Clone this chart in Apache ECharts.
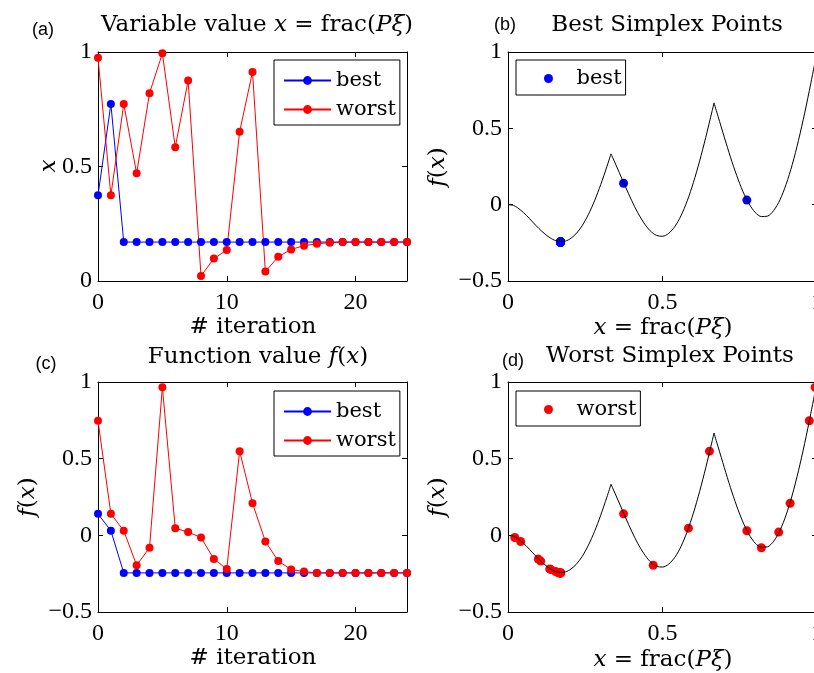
<!DOCTYPE html>
<html>
<head>
<meta charset="utf-8">
<script src="https://cdn.jsdelivr.net/npm/echarts@6/dist/echarts.min.js"></script>
<style>
  html, body { margin: 0; padding: 0; background: #fff; }
  #main { width: 814px; height: 673px; }
</style>
</head>
<body>
<div id="main"></div>
<script>
// iteration index of the simplex run
const iterations = [0, 1, 2, 3, 4, 5, 6, 7, 8, 9, 10, 11, 12, 13, 14, 15, 16, 17, 18, 19, 20, 21, 22, 23, 24];

// x = frac(P xi) of best / worst simplex point per iteration
const bestX = [0.374, 0.773, 0.170, 0.170, 0.170, 0.170, 0.170, 0.170, 0.170, 0.170, 0.170, 0.170, 0.170,
  0.170, 0.170, 0.170, 0.170, 0.170, 0.170, 0.170, 0.170, 0.170, 0.170, 0.170, 0.170];
const worstX = [0.975, 0.374, 0.773, 0.470, 0.820, 0.994, 0.584, 0.876, 0.022, 0.098, 0.135, 0.652, 0.913,
  0.041, 0.106, 0.138, 0.154, 0.163, 0.167, 0.170, 0.170, 0.170, 0.170, 0.170, 0.170];

// f(x) of best / worst simplex point per iteration
const bestF = [0.140, 0.030, -0.245, -0.245, -0.245, -0.245, -0.245, -0.245, -0.245, -0.245, -0.245, -0.245, -0.245,
  -0.245, -0.245, -0.245, -0.245, -0.245, -0.245, -0.245, -0.245, -0.245, -0.245, -0.245, -0.245];
const worstF = [0.747, 0.140, 0.030, -0.195, -0.081, 0.965, 0.047, 0.021, -0.014, -0.155, -0.219, 0.549, 0.209,
  -0.040, -0.168, -0.223, -0.236, -0.245, -0.245, -0.245, -0.245, -0.245, -0.245, -0.245, -0.245];

// the objective curve f(x) (b)/(d), split at the two cusps
const curveSeg1 = [[0, 0], [0.02, -0.007], [0.04, -0.034], [0.06, -0.071], [0.08, -0.114], [0.10, -0.156],
  [0.12, -0.193], [0.14, -0.222], [0.16, -0.239], [0.18, -0.241], [0.20, -0.225], [0.22, -0.191],
  [0.24, -0.138], [0.26, -0.065], [0.28, 0.025], [0.30, 0.131], [0.32, 0.249], [0.3333, 0.333]];
const curveSeg2 = [[0.3333, 0.333], [0.34, 0.303], [0.36, 0.211], [0.38, 0.118], [0.40, 0.028], [0.42, -0.053],
  [0.44, -0.120], [0.46, -0.171], [0.48, -0.201], [0.50, -0.207], [0.52, -0.188], [0.54, -0.143],
  [0.56, -0.072], [0.58, 0.025], [0.60, 0.145], [0.62, 0.285], [0.64, 0.441], [0.66, 0.609], [0.6667, 0.667]];
const curveSeg3 = [[0.6667, 0.667], [0.68, 0.577], [0.70, 0.442], [0.72, 0.311], [0.74, 0.192], [0.76, 0.088],
  [0.78, 0.006], [0.80, -0.051], [0.82, -0.078], [0.84, -0.075], [0.86, -0.038], [0.88, 0.031],
  [0.90, 0.133], [0.92, 0.263], [0.94, 0.421], [0.96, 0.599], [0.98, 0.795], [1.0, 1.0]];

const serif = 'DejaVu Serif';
const tickFont = 'Liberation Serif';
const BLUE = '#0000ff';
const RED = '#ff0000';

const grids = [
  { left: 98, top: 52, width: 309, height: 229 },
  { left: 508, top: 52, width: 309, height: 229 },
  { left: 98, top: 382, width: 309, height: 230 },
  { left: 508, top: 382, width: 309, height: 230 }
].map(g => Object.assign({ show: false, containLabel: false, outerBoundsMode: 'none' }, g));

const minus = v => (v < 0 ? '\u2212' + (-v) : String(v));

const xAxes = [], yAxes = [];
function addAxes(gi, xr, yr, hideMaxX) {
  const line = { show: true, onZero: false, lineStyle: { color: '#000', width: 1 } };
  const tick = { show: true, inside: true, length: 5, lineStyle: { color: '#000', width: 1 } };
  const label = { fontFamily: tickFont, fontSize: 24, color: '#000', formatter: minus };
  ['bottom', 'top'].forEach((pos, k) => xAxes.push({
    gridIndex: gi, type: 'value', position: pos, min: xr[0], max: xr[1], interval: xr[2],
    axisLine: line, axisTick: tick, splitLine: { show: false },
    axisLabel: Object.assign({ show: k === 0, margin: 10, showMaxLabel: !hideMaxX }, label)
  }));
  ['left', 'right'].forEach((pos, k) => yAxes.push({
    gridIndex: gi, type: 'value', position: pos, min: yr[0], max: yr[1], interval: yr[2],
    axisLine: line, axisTick: tick, splitLine: { show: false },
    axisLabel: Object.assign({ show: k === 0, margin: 6 }, label)
  }));
}
addAxes(0, [0, 24, 10], [0, 1, 0.5], true);
addAxes(1, [0, 1, 0.5], [-0.5, 1, 0.5], false);
addAxes(2, [0, 24, 10], [-0.5, 1, 0.5], true);
addAxes(3, [0, 1, 0.5], [-0.5, 1, 0.5], false);

const iterLine = (name, gi, ys, color) => ({
  name, type: 'line', xAxisIndex: gi * 2, yAxisIndex: gi * 2,
  data: iterations.map((it, k) => [it, ys[k]]),
  symbol: 'circle', symbolSize: 8, showAllSymbol: true, clip: false,
  lineStyle: { color, width: 1 }, itemStyle: { color, opacity: 1 },
  emphasis: { disabled: true }
});
const curve = (gi, seg) => ({
  type: 'line', xAxisIndex: gi * 2, yAxisIndex: gi * 2, data: seg,
  symbol: 'none', smooth: 0.3, clip: false,
  lineStyle: { color: '#000', width: 1 }, emphasis: { disabled: true }
});
const dots = (name, gi, xs, ys, color) => ({
  name, type: 'scatter', xAxisIndex: gi * 2, yAxisIndex: gi * 2,
  data: xs.map((x, k) => [x, ys[k]]),
  symbol: 'circle', symbolSize: 9, clip: false, itemStyle: { color, opacity: 1 },
  emphasis: { disabled: true }
});

const series = [
  iterLine('x best', 0, bestX, BLUE),
  iterLine('x worst', 0, worstX, RED),
  curve(1, curveSeg1), curve(1, curveSeg2), curve(1, curveSeg3),
  dots('pts best', 1, bestX, bestF, BLUE),
  iterLine('f best', 2, bestF, BLUE),
  iterLine('f worst', 2, worstF, RED),
  curve(3, curveSeg1), curve(3, curveSeg2), curve(3, curveSeg3),
  dots('pts worst', 3, worstX, worstF, RED)
];

const legendBase = {
  orient: 'vertical', selectedMode: false, borderColor: '#000', borderWidth: 1, borderRadius: 0,
  backgroundColor: '#fff', itemGap: 8,
  textStyle: { fontFamily: serif, fontSize: 21, color: '#000' },
  formatter: n => n.split(' ')[1]
};
const legends = [
  { left: 274, top: 60, data: ['x best', 'x worst'], itemWidth: 47, itemHeight: 11, padding: [10, 4, 5, 9] },
  { left: 516, top: 60, data: ['pts best'], itemWidth: 46, itemHeight: 9, padding: [8, 4, 6, 28] },
  { left: 274, top: 391, data: ['f best', 'f worst'], itemWidth: 47, itemHeight: 11, padding: [10, 4, 5, 9] },
  { left: 516, top: 391, data: ['pts worst'], itemWidth: 46, itemHeight: 9, padding: [8, 4, 6, 28] }
].map(l => Object.assign({}, legendBase, l));

const rich = {
  r: { fontFamily: serif, fontSize: 23, fill: '#000' },
  i: { fontFamily: serif, fontSize: 23, fontStyle: 'italic', fill: '#000' }
};
const txt = (x, y, text, rot) => ({
  type: 'text', x, y, rotation: rot ? Math.PI / 2 : 0, silent: true,
  style: { text, rich, align: 'center', verticalAlign: 'middle', fill: '#000',
    fontFamily: serif, fontSize: 23 }
});
const tag = (x, y, text) => ({
  type: 'text', x, y, silent: true,
  style: { text, align: 'center', verticalAlign: 'middle', fill: '#000',
    fontFamily: 'Liberation Sans', fontSize: 18 }
});
const fx = '{i|f}{r|(}{i|x}{r|)}';
const fracLabel = '{i|x}{r| = frac(}{i|P\u03be}{r|)}';

const graphic = [
  txt(257, 25, '{r|Variable value }' + fracLabel),
  txt(667, 25, '{r|Best Simplex Points}'),
  txt(258, 357, '{r|Function value }' + fx),
  txt(670, 356, '{r|Worst Simplex Points}'),
  txt(49, 166, '{i|x}', true),
  txt(253, 327, '{r|# iteration}'),
  txt(438, 167, fx, true),
  txt(663, 328, fracLabel),
  txt(28, 497, fx, true),
  txt(253, 658, '{r|# iteration}'),
  txt(438, 497, fx, true),
  txt(663, 660, fracLabel),
  tag(43, 30, '(a)'),
  tag(505, 25, '(b)'),
  tag(46, 364, '(c)'),
  tag(513, 361, '(d)')
];

const chart = echarts.init(document.getElementById('main'), null, { renderer: 'canvas' });
chart.setOption({
  animation: false,
  backgroundColor: '#fff',
  grid: grids,
  xAxis: xAxes,
  yAxis: yAxes,
  legend: legends,
  series,
  graphic
});
</script>
</body>
</html>
